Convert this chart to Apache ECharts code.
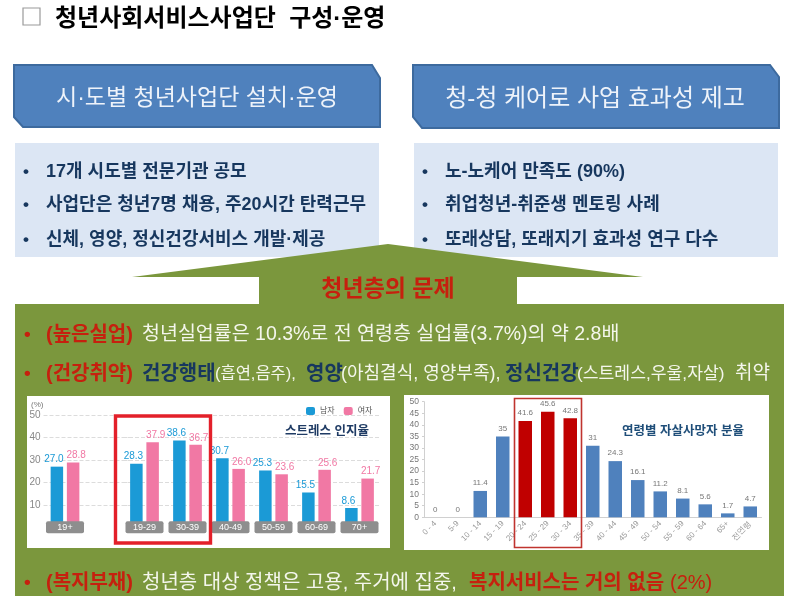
<!DOCTYPE html>
<html>
<head>
<meta charset="utf-8">
<style>
    html, body { margin: 0; padding: 0; background: #fff; }
    #main { width: 800px; height: 606px; }
</style>
<script src="https://cdn.jsdelivr.net/npm/echarts@6/dist/echarts.min.js"></script>
</head>
<body>
<div id="main"></div>
<script>
// 스트레스 인지율 (19+ is drawn on its own small grid, it stands apart from the others)
var stressAllAges = ['19+', ''];
var stressAllMale = [27.0, null];
var stressAllFemale = [28.8, null];
var stressAges = ['19-29', '30-39', '40-49', '50-59', '60-69', '70+'];
var stressMale = [28.3, 38.6, 30.7, 25.3, 15.5, 8.6];
var stressFemale = [37.9, 36.7, 26.0, 23.6, 25.6, 21.7];
var stressTicks = [0, 10, 20, 30, 40, 50];

// 연령별 자살사망자 분율
var suicideAges = ['0 - 4', '5-9', '10 - 14', '15 - 19', '20 - 24', '25 - 29', '30 - 34', '35 - 39', '40 - 44', '45 - 49', '50 - 54', '55 - 59', '60 - 64', '65+', '전연령'];
var suicideRate = [0, 0, 11.4, 35, 41.6, 45.6, 42.8, 31, 24.3, 16.1, 11.2, 8.1, 5.6, 1.7, 4.7];
var suicideHighlight = ['20 - 24', '25 - 29', '30 - 34'];

var FONT = '"Liberation Sans", "Noto Sans CJK KR", sans-serif';
var BLUE = '#1b9ad6', PINK = '#f178a4', GREEN = '#7b973d', NAVY = '#17375e', RED = '#c00000', TXTRED = '#c6200e', PALE = '#f4f6ec';

var chart = echarts.init(document.getElementById('main'));

function fixed1(p) {
    return p.value.toFixed(1);
}

function stressBar(name, color, data, axisIndex, shift) {
    return {
        name: name,
        type: 'bar',
        xAxisIndex: axisIndex,
        yAxisIndex: axisIndex,
        data: data,
        barWidth: 12.5,
        barGap: '30%',
        itemStyle: { color: color },
        label: {
            show: true,
            position: 'top',
            distance: 2,
            offset: [shift, 0],
            color: color,
            fontSize: 10,
            fontFamily: 'Liberation Sans',
            formatter: fixed1
        }
    };
}

function stressXAxis(gridIndex, data) {
    return {
        type: 'category',
        gridIndex: gridIndex,
        data: data,
        z: 5,
        axisLine: { show: false },
        axisTick: { show: false },
        axisLabel: {
            interval: function (i, v) { return v !== ''; },
            margin: -6,
            width: 38,
            height: 12,
            lineHeight: 12,
            align: 'center',
            backgroundColor: '#8e8e8e',
            borderRadius: 2,
            color: '#fff',
            fontSize: 9,
            fontFamily: 'Liberation Sans'
        }
    };
}

function stressYAxis(gridIndex, showLabel) {
    return {
        type: 'value',
        gridIndex: gridIndex,
        min: stressTicks[0],
        max: stressTicks[stressTicks.length - 1],
        interval: 10,
        axisLine: { show: false },
        axisTick: { show: false },
        axisLabel: {
            show: showLabel,
            margin: 3,
            color: '#888',
            fontSize: 10,
            fontFamily: 'Liberation Sans',
            formatter: function (v) { return v === 0 ? '' : v; }
        },
        splitLine: { showMinLine: false, lineStyle: { color: '#dcdcdc', type: 'dashed', width: 1 } }
    };
}

// y is the wanted centre of the glyphs, the font sits about 2px high of the middle line
function txt(x, y, text, fontSize, color, weight, align) {
    return {
        type: 'text',
        x: x,
        y: y + 2,
        z: 50,
        silent: true,
        style: {
            text: text,
            fontSize: fontSize,
            fontFamily: FONT,
            fontWeight: weight || 'normal',
            fill: color,
            align: align || 'left',
            verticalAlign: 'middle'
        }
    };
}

function box(x, y, w, h, fill) {
    return { type: 'rect', z: -10, silent: true, shape: { x: x, y: y, width: w, height: h }, style: { fill: fill } };
}

function poly(points, fill, stroke) {
    return {
        type: 'polygon', z: -9, silent: true,
        shape: { points: points },
        style: { fill: fill, stroke: stroke || null, lineWidth: stroke ? 2 : 0 }
    };
}

function redBox(x, y, w, h, width, color) {
    return {
        type: 'rect', z: 40, silent: true,
        shape: { x: x, y: y, width: w, height: h },
        style: { fill: null, stroke: color, lineWidth: width }
    };
}

var option = {
    backgroundColor: '#fff',
    animation: false,
    legend: {
        left: 301,
        top: 402,
        itemWidth: 9,
        itemHeight: 8,
        itemGap: 9,
        selectedMode: false,
        data: ['남자', '여자'],
        textStyle: { fontSize: 8, color: '#555', fontFamily: FONT }
    },
    grid: [
        { left: 43.5, top: 415, width: 86, height: 112.3 },
        { left: 123, top: 415, width: 258, height: 112.3 },
        { left: 424, top: 401.7, width: 337.5, height: 115.6 }
    ],
    xAxis: [
        stressXAxis(0, stressAllAges),
        stressXAxis(1, stressAges),
        {
            type: 'category',
            gridIndex: 2,
            data: suicideAges,
            axisLine: { lineStyle: { color: '#d0d0d0' } },
            axisTick: { show: false },
            axisLabel: { interval: 0, rotate: 45, margin: 5, color: '#999', fontSize: 8, fontFamily: 'Liberation Sans' }
        }
    ],
    yAxis: [
        stressYAxis(0, true),
        stressYAxis(1, false),
        {
            type: 'value',
            gridIndex: 2,
            min: 0,
            max: 50,
            interval: 5,
            axisLine: { show: true, lineStyle: { color: '#d0d0d0' } },
            axisTick: { show: true, length: 2, lineStyle: { color: '#d0d0d0' } },
            axisLabel: { margin: 5, color: '#777', fontSize: 8.5, fontFamily: 'Liberation Sans' },
            splitLine: { show: false }
        }
    ],
    series: [
        stressBar('남자', BLUE, stressAllMale, 0, -3),
        stressBar('여자', PINK, stressAllFemale, 0, 3),
        stressBar('남자', BLUE, stressMale, 1, -3),
        stressBar('여자', PINK, stressFemale, 1, 3),
        {
            type: 'bar',
            xAxisIndex: 2,
            yAxisIndex: 2,
            barWidth: 13.5,
            data: suicideRate.map(function (v, i) {
                var hot = suicideHighlight.indexOf(suicideAges[i]) >= 0;
                return { value: v, itemStyle: { color: hot ? RED : '#4f81bd' } };
            }),
            label: { show: true, position: 'top', distance: 4, color: '#777', fontSize: 8, fontFamily: 'Liberation Sans' }
        }
    ],
    graphic: {
        elements: [
            // 제목
            {
                type: 'rect', z: -8, silent: true,
                shape: { x: 23, y: 8, width: 17, height: 17 },
                style: { fill: '#fff', stroke: '#9a9a9a', lineWidth: 1.2 }
            },
            txt(55, 17, '청년사회서비스사업단  구성·운영', 24, '#000', 'bold'),

            // 상단 박스
            poly([[14, 65], [372, 65], [380, 78], [380, 127], [23, 127], [14, 117]], '#4f81bd', '#3d6a9e'),
            poly([[413, 65], [770, 65], [779, 77], [779, 128], [422, 128], [413, 117]], '#4f81bd', '#3d6a9e'),
            txt(197, 97, '시·도별 청년사업단 설치·운영', 23, '#eef3fa', 'normal', 'center'),
            txt(595, 97, '청-청 케어로 사업 효과성 제고', 24, '#eef3fa', 'normal', 'center'),
            box(15, 143, 364, 114, '#dce6f4'),
            box(414, 143, 364, 114, '#dce6f4'),
            txt(23, 170, '•', 17, NAVY, 'bold'),
            txt(23, 203, '•', 17, NAVY, 'bold'),
            txt(23, 238, '•', 17, NAVY, 'bold'),
            txt(46, 170, '17개 시도별 전문기관 공모', 18, NAVY, 'bold'),
            txt(46, 203, '사업단은 청년7명 채용, 주20시간 탄력근무', 18, NAVY, 'bold'),
            txt(46, 238, '신체, 영양, 정신건강서비스 개발·제공', 18, NAVY, 'bold'),
            txt(422, 170, '•', 17, NAVY, 'bold'),
            txt(422, 203, '•', 17, NAVY, 'bold'),
            txt(422, 238, '•', 17, NAVY, 'bold'),
            txt(445, 170, '노-노케어 만족도 (90%)', 18, NAVY, 'bold'),
            txt(445, 203, '취업청년-취준생 멘토링 사례', 18, NAVY, 'bold'),
            txt(445, 238, '또래상담, 또래지기 효과성 연구 다수', 18, NAVY, 'bold'),

            // 초록 화살표와 본문
            poly([[132, 277], [388, 244], [643, 277]], GREEN),
            box(259, 277, 258, 28, GREEN),
            box(15, 304, 769, 292, GREEN),
            txt(388, 288, '청년층의 문제', 23, TXTRED, 'bold', 'center'),

            txt(24, 333, '•', 19, TXTRED, 'bold'),
            txt(46, 333, '(높은실업)', 20, TXTRED, 'bold'),
            txt(142, 333, '청년실업률은 10.3%로 전 연령층 실업률(3.7%)의 약 2.8배', 19.5, PALE),

            txt(24, 372, '•', 19, TXTRED, 'bold'),
            txt(46, 372, '(건강취약)', 20, TXTRED, 'bold'),
            txt(142, 372, '건강행태', 20, NAVY, 'bold'),
            txt(215, 372, '(흡연,음주),', 16.5, PALE),
            txt(306, 372, '영양', 20, NAVY, 'bold'),
            txt(341, 372, '(아침결식, 영양부족),', 18, PALE),
            txt(505, 372, '정신건강', 20, NAVY, 'bold'),
            txt(577, 372, '(스트레스,우울,자살)', 17.2, PALE),
            txt(735, 372, '취약', 19, PALE),

            txt(24, 581, '•', 19, TXTRED, 'bold'),
            txt(46, 581, '(복지부재)', 20, TXTRED, 'bold'),
            txt(142, 581, '청년층 대상 정책은 고용, 주거에 집중,', 20, PALE),
            txt(469, 581, '복지서비스는 거의 없음', 20, TXTRED, 'bold'),
            txt(670, 581, '(2%)', 20, TXTRED),

            // 차트 패널
            box(27, 396, 363, 152, '#fff'),
            box(404, 395, 365, 155, '#fff'),
            txt(31, 403, '(%)', 8, '#777'),
            txt(327, 430, '스트레스 인지율', 12.5, '#1f3b64', 'bold', 'center'),
            txt(683, 430, '연령별 자살사망자 분율', 12.5, '#1f4e79', 'bold', 'center'),
            redBox(115.5, 416, 95, 127, 3.4, '#e3202a'),
            redBox(514.5, 398.5, 67, 149, 1.6, '#c0342f')
        ]
    }
};

chart.setOption(option);
</script>
</body>
</html>
